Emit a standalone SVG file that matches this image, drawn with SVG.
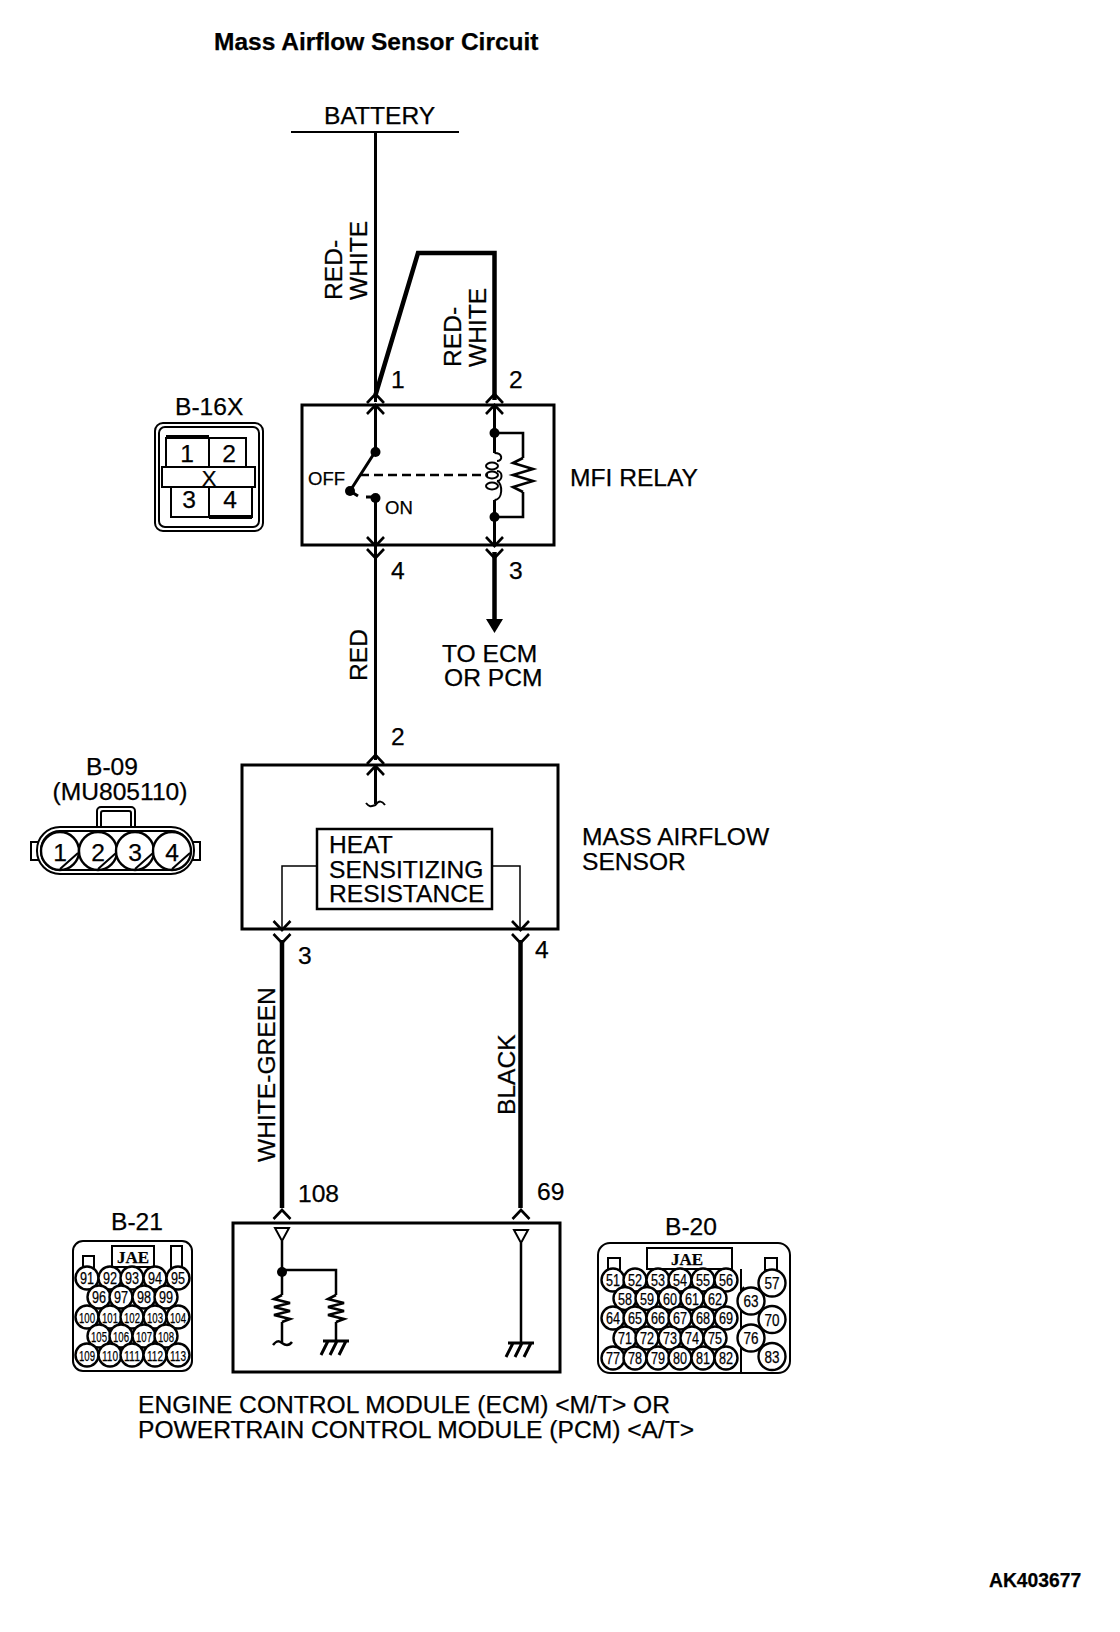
<svg xmlns="http://www.w3.org/2000/svg" xmlns:xlink="http://www.w3.org/1999/xlink" width="1120" height="1632" viewBox="0 0 1120 1632">
<style>
text{font-family:"Liberation Sans",Arial,sans-serif;font-size:24.6px;fill:#000;stroke:#000;stroke-width:.25}
.b{font-weight:bold}
.s{font-size:18.5px}
.m{text-anchor:middle}
.serif{font-family:"Liberation Serif",serif;font-weight:bold;font-size:17px;text-anchor:middle}
.ln{fill:none;stroke:#000;stroke-width:2}
.thin{fill:none;stroke:#000;stroke-width:1.5}
.box{fill:none;stroke:#000;stroke-width:3}
.w{fill:none;stroke:#000;stroke-width:3}
.wt{fill:none;stroke:#000;stroke-width:4.5}
.dot{fill:#000}
.pin{fill:#fff;stroke:#000;stroke-width:2.4}
.n{font-size:16px;text-anchor:middle}
.n3{font-size:15.5px;text-anchor:middle}
</style>
<defs>
<path id="cu" d="M-8.5 9L0 0L8.5 9" fill="none" stroke="#000" stroke-width="2.6"/>
<path id="cd" d="M-8.5 -9L0 0L8.5 -9" fill="none" stroke="#000" stroke-width="2.6"/>
<path id="gnd" d="M-13 0H13M-8 0L-15 14M1 0L-6 14M10 0L3 14" fill="none" stroke="#000" stroke-width="3"/>
<path id="res" d="M0 0L-8 4L8 8L-8 12L8 16L-8 20L8 24L0 27" fill="none" stroke="#000" stroke-width="2.6"/>
</defs>
<rect width="1120" height="1632" fill="#fff"/>
<text id="title" class="b" x="214" y="50" style="font-size:24.5px">Mass Airflow Sensor Circuit</text>

<g id="battery">
<text x="324" y="124">BATTERY</text>
<path class="ln" d="M291 132H459"/>
</g>

<g id="connectors">
<path class="w" d="M375.5 132V402"/>
<path class="wt" d="M375.5 395L418 253H494.5V400"/>
<path class="w" d="M375.5 540V760"/>
<path class="wt" d="M494.5 552V620"/>
<path class="dot" d="M486 619H503L494.5 633Z"/>
<path class="wt" d="M282 940V1208"/>
<path class="wt" d="M520.5 940V1208"/>
<use xlink:href="#cu" href="#cu" x="375.5" y="394"/><use xlink:href="#cu" href="#cu" x="375.5" y="405"/>
<use xlink:href="#cu" href="#cu" x="494.5" y="394"/><use xlink:href="#cu" href="#cu" x="494.5" y="405"/>
<use xlink:href="#cd" href="#cd" x="375.5" y="546"/><use xlink:href="#cd" href="#cd" x="375.5" y="558"/>
<use xlink:href="#cd" href="#cd" x="494.5" y="546"/><use xlink:href="#cd" href="#cd" x="494.5" y="558"/>
<use xlink:href="#cu" href="#cu" x="375.5" y="755"/><use xlink:href="#cu" href="#cu" x="375.5" y="766"/>
<use xlink:href="#cd" href="#cd" x="282" y="930"/><use xlink:href="#cd" href="#cd" x="282" y="943"/>
<use xlink:href="#cd" href="#cd" x="520.5" y="930"/><use xlink:href="#cd" href="#cd" x="520.5" y="943"/>
<use xlink:href="#cu" href="#cu" x="282" y="1210"/>
<use xlink:href="#cu" href="#cu" x="521" y="1210"/>
</g>

<g id="wire-labels">
<text transform="translate(342 300) rotate(-90)">RED-</text>
<text transform="translate(367 300) rotate(-90)">WHITE</text>
<text transform="translate(461 367) rotate(-90)">RED-</text>
<text transform="translate(486 367) rotate(-90)">WHITE</text>
<text x="391" y="388">1</text>
<text x="509" y="388">2</text>
<text x="391" y="579">4</text>
<text x="509" y="579">3</text>
<text transform="translate(367 681) rotate(-90)">RED</text>
<text x="442" y="662">TO ECM</text>
<text x="444" y="686">OR PCM</text>
<text x="391" y="745">2</text>
<text x="298" y="964">3</text>
<text x="535" y="958">4</text>
<text transform="translate(275 1162) rotate(-90)">WHITE-GREEN</text>
<text transform="translate(515 1115) rotate(-90)">BLACK</text>
<text x="298" y="1202">108</text>
<text x="537" y="1200">69</text>
</g>

<g id="relay">
<rect class="box" x="302" y="405" width="252" height="140"/>
<path class="w" d="M375.5 405V452M375.5 498V545"/>
<circle class="dot" cx="375.5" cy="452" r="5"/>
<circle class="dot" cx="350" cy="491" r="5"/>
<circle class="dot" cx="375.5" cy="498" r="5"/>
<path class="w" d="M375 452L350 491L358 496M366 497H375"/>
<path class="ln" d="M360 475H488" stroke-dasharray="9 5" style="stroke-width:2.6"/>
<text class="s" x="308" y="485">OFF</text>
<text class="s" x="385" y="514">ON</text>
<path class="w" d="M494.5 405V453M494.5 500V545"/>
<circle class="dot" cx="494.5" cy="433" r="5"/>
<circle class="dot" cx="494.5" cy="517" r="5"/>
<path class="ln" d="M494.5 433H523V458M523 492V517H494.5" style="stroke-width:2.6"/>
<path class="ln" d="M523 458L513 463L533 469L513 475L533 481L513 487L523 492" style="stroke-width:2.6"/>
<path class="ln" d="M494.5 453C503 453 503 461 497 461M497 471C503 471 503 481 497 481M497 481C503 483 503 500 494.5 500"/>
<ellipse class="ln" cx="492" cy="466" rx="6" ry="3.5"/>
<ellipse class="ln" cx="492" cy="475" rx="6" ry="3.5"/>
<ellipse class="ln" cx="492" cy="486" rx="6" ry="3.5"/>
<text x="570" y="486">MFI RELAY</text>
</g>

<g id="conn-b16x">
<text x="175" y="415">B-16X</text>
<rect class="ln" x="155" y="423" width="108" height="108" rx="8"/>
<rect class="ln" x="159" y="427" width="100" height="100" rx="6"/>
<path class="ln" d="M166 467V438H209V467M209 438H246V467"/>
<path class="ln" d="M171 487V517H252V487M209 487V517"/>
<rect class="ln" x="162" y="467" width="93" height="20"/>
<path d="M166 437H209M209 517H252" fill="none" stroke="#000" stroke-width="4"/>
<text class="m" x="187" y="462">1</text>
<text class="m" x="229" y="462">2</text>
<text class="m" x="209" y="486" style="font-size:22px">X</text>
<text class="m" x="189" y="508">3</text>
<text class="m" x="230" y="508">4</text>
</g>

<g id="sensor">
<rect class="box" x="242" y="765" width="316" height="164"/>
<path class="w" d="M375.5 765V804"/>
<path class="ln" d="M366 803C370 808 372 806 375.5 805C379 800 382 801 385 805"/>
<rect class="ln" x="317" y="829" width="175" height="80" style="stroke-width:2.5"/>
<text x="329" y="853">HEAT</text>
<text x="329" y="878">SENSITIZING</text>
<text x="329" y="902">RESISTANCE</text>
<path class="thin" d="M317 866H282V930M492 866H520V930"/>
<text x="582" y="845">MASS AIRFLOW</text>
<text x="582" y="870">SENSOR</text>
</g>

<g id="conn-b09">
<text class="m" x="112" y="775">B-09</text>
<text class="m" x="120" y="800">(MU805110)</text>
<rect class="ln" x="97" y="807" width="38" height="25" rx="4"/>
<rect class="ln" x="101" y="811" width="30" height="20" rx="2"/>
<rect class="ln" x="31" y="842" width="8" height="18"/>
<rect class="ln" x="193" y="842" width="7" height="18"/>
<rect x="37" y="827" width="157" height="47" rx="23" fill="#fff" stroke="#000" stroke-width="2"/>
<rect class="ln" x="41" y="831" width="149" height="39" rx="19"/>
<circle class="pin" cx="60" cy="851" r="19"/>
<circle class="pin" cx="98" cy="851" r="19"/>
<circle class="pin" cx="135" cy="851" r="19"/>
<circle class="pin" cx="172" cy="851" r="19"/>
<path class="ln" d="M60 869L78 853M98 869L116 853M135 869L153 853M172 869L190 853"/>
<text class="m" x="60" y="861">1</text>
<text class="m" x="98" y="861">2</text>
<text class="m" x="135" y="861">3</text>
<text class="m" x="172" y="861">4</text>
</g>

<g id="ecm">
<rect class="box" x="233" y="1223" width="327" height="149"/>
<path class="ln" d="M275 1228H289L282 1241ZM514 1230H528L521 1243Z"/>
<path class="ln" d="M282 1241V1295M282 1322V1342M282 1270H336V1295M336 1322V1341M521 1243V1343" style="stroke-width:2.5"/>
<circle class="dot" cx="282" cy="1272" r="5"/>
<use xlink:href="#res" href="#res" x="282" y="1295"/>
<use xlink:href="#res" href="#res" x="336" y="1295"/>
<path class="ln" d="M273 1345C277 1340 279 1341 282 1343C286 1346 289 1346 292 1342" style="stroke-width:2.5"/>
<use xlink:href="#gnd" href="#gnd" x="336" y="1341"/>
<use xlink:href="#gnd" href="#gnd" x="521" y="1343"/>
<text x="138" y="1413">ENGINE CONTROL MODULE (ECM) &lt;M/T&gt; OR</text>
<text x="138" y="1438">POWERTRAIN CONTROL MODULE (PCM) &lt;A/T&gt;</text>
</g>

<g id="conn-b21">
<text x="111" y="1230">B-21</text>
<rect class="ln" x="73" y="1241" width="119" height="130" rx="10"/>
<rect class="ln" x="112" y="1246" width="42" height="21"/>
<text class="serif" x="133" y="1263">JAE</text>
<rect class="ln" x="83" y="1256" width="11" height="12"/>
<rect class="ln" x="171" y="1246" width="11" height="22"/>
<circle class="pin" cx="87" cy="1278" r="11.5"/><text class="n" x="87" y="1284" textLength="14" lengthAdjust="spacingAndGlyphs">91</text>
<circle class="pin" cx="110" cy="1278" r="11.5"/><text class="n" x="110" y="1284" textLength="14" lengthAdjust="spacingAndGlyphs">92</text>
<circle class="pin" cx="132" cy="1278" r="11.5"/><text class="n" x="132" y="1284" textLength="14" lengthAdjust="spacingAndGlyphs">93</text>
<circle class="pin" cx="155" cy="1278" r="11.5"/><text class="n" x="155" y="1284" textLength="14" lengthAdjust="spacingAndGlyphs">94</text>
<circle class="pin" cx="178" cy="1278" r="11.5"/><text class="n" x="178" y="1284" textLength="14" lengthAdjust="spacingAndGlyphs">95</text>
<circle class="pin" cx="99" cy="1297" r="11.5"/><text class="n" x="99" y="1303" textLength="14" lengthAdjust="spacingAndGlyphs">96</text>
<circle class="pin" cx="121" cy="1297" r="11.5"/><text class="n" x="121" y="1303" textLength="14" lengthAdjust="spacingAndGlyphs">97</text>
<circle class="pin" cx="144" cy="1297" r="11.5"/><text class="n" x="144" y="1303" textLength="14" lengthAdjust="spacingAndGlyphs">98</text>
<circle class="pin" cx="166" cy="1297" r="11.5"/><text class="n" x="166" y="1303" textLength="14" lengthAdjust="spacingAndGlyphs">99</text>
<circle class="pin" cx="87" cy="1317" r="11.5"/><text class="n3" x="87" y="1322.5" textLength="16" lengthAdjust="spacingAndGlyphs">100</text>
<circle class="pin" cx="110" cy="1317" r="11.5"/><text class="n3" x="110" y="1322.5" textLength="16" lengthAdjust="spacingAndGlyphs">101</text>
<circle class="pin" cx="132" cy="1317" r="11.5"/><text class="n3" x="132" y="1322.5" textLength="16" lengthAdjust="spacingAndGlyphs">102</text>
<circle class="pin" cx="155" cy="1317" r="11.5"/><text class="n3" x="155" y="1322.5" textLength="16" lengthAdjust="spacingAndGlyphs">103</text>
<circle class="pin" cx="178" cy="1317" r="11.5"/><text class="n3" x="178" y="1322.5" textLength="16" lengthAdjust="spacingAndGlyphs">104</text>
<circle class="pin" cx="99" cy="1336" r="11.5"/><text class="n3" x="99" y="1341.5" textLength="16" lengthAdjust="spacingAndGlyphs">105</text>
<circle class="pin" cx="121" cy="1336" r="11.5"/><text class="n3" x="121" y="1341.5" textLength="16" lengthAdjust="spacingAndGlyphs">106</text>
<circle class="pin" cx="144" cy="1336" r="11.5"/><text class="n3" x="144" y="1341.5" textLength="16" lengthAdjust="spacingAndGlyphs">107</text>
<circle class="pin" cx="166" cy="1336" r="11.5"/><text class="n3" x="166" y="1341.5" textLength="16" lengthAdjust="spacingAndGlyphs">108</text>
<circle class="pin" cx="87" cy="1355" r="11.5"/><text class="n3" x="87" y="1360.5" textLength="16" lengthAdjust="spacingAndGlyphs">109</text>
<circle class="pin" cx="110" cy="1355" r="11.5"/><text class="n3" x="110" y="1360.5" textLength="16" lengthAdjust="spacingAndGlyphs">110</text>
<circle class="pin" cx="132" cy="1355" r="11.5"/><text class="n3" x="132" y="1360.5" textLength="16" lengthAdjust="spacingAndGlyphs">111</text>
<circle class="pin" cx="155" cy="1355" r="11.5"/><text class="n3" x="155" y="1360.5" textLength="16" lengthAdjust="spacingAndGlyphs">112</text>
<circle class="pin" cx="178" cy="1355" r="11.5"/><text class="n3" x="178" y="1360.5" textLength="16" lengthAdjust="spacingAndGlyphs">113</text>
</g>

<g id="conn-b20">
<text x="665" y="1235">B-20</text>
<rect class="ln" x="598" y="1243" width="192" height="130" rx="12"/>
<rect class="ln" x="647" y="1248" width="85" height="21"/>
<text class="serif" x="687" y="1265">JAE</text>
<rect class="ln" x="608" y="1258" width="12" height="12"/>
<rect class="ln" x="765" y="1258" width="12" height="12"/>
<path class="ln" d="M741 1269V1373"/>
<circle class="pin" cx="613" cy="1280" r="11.5"/><text class="n" x="613" y="1286" textLength="14" lengthAdjust="spacingAndGlyphs">51</text>
<circle class="pin" cx="635" cy="1280" r="11.5"/><text class="n" x="635" y="1286" textLength="14" lengthAdjust="spacingAndGlyphs">52</text>
<circle class="pin" cx="658" cy="1280" r="11.5"/><text class="n" x="658" y="1286" textLength="14" lengthAdjust="spacingAndGlyphs">53</text>
<circle class="pin" cx="680" cy="1280" r="11.5"/><text class="n" x="680" y="1286" textLength="14" lengthAdjust="spacingAndGlyphs">54</text>
<circle class="pin" cx="703" cy="1280" r="11.5"/><text class="n" x="703" y="1286" textLength="14" lengthAdjust="spacingAndGlyphs">55</text>
<circle class="pin" cx="726" cy="1280" r="11.5"/><text class="n" x="726" y="1286" textLength="14" lengthAdjust="spacingAndGlyphs">56</text>
<circle class="pin" cx="625" cy="1298.5" r="11.5"/><text class="n" x="625" y="1304.5" textLength="14" lengthAdjust="spacingAndGlyphs">58</text>
<circle class="pin" cx="647" cy="1298.5" r="11.5"/><text class="n" x="647" y="1304.5" textLength="14" lengthAdjust="spacingAndGlyphs">59</text>
<circle class="pin" cx="670" cy="1298.5" r="11.5"/><text class="n" x="670" y="1304.5" textLength="14" lengthAdjust="spacingAndGlyphs">60</text>
<circle class="pin" cx="692" cy="1298.5" r="11.5"/><text class="n" x="692" y="1304.5" textLength="14" lengthAdjust="spacingAndGlyphs">61</text>
<circle class="pin" cx="715" cy="1298.5" r="11.5"/><text class="n" x="715" y="1304.5" textLength="14" lengthAdjust="spacingAndGlyphs">62</text>
<circle class="pin" cx="613" cy="1318" r="11.5"/><text class="n" x="613" y="1324" textLength="14" lengthAdjust="spacingAndGlyphs">64</text>
<circle class="pin" cx="635" cy="1318" r="11.5"/><text class="n" x="635" y="1324" textLength="14" lengthAdjust="spacingAndGlyphs">65</text>
<circle class="pin" cx="658" cy="1318" r="11.5"/><text class="n" x="658" y="1324" textLength="14" lengthAdjust="spacingAndGlyphs">66</text>
<circle class="pin" cx="680" cy="1318" r="11.5"/><text class="n" x="680" y="1324" textLength="14" lengthAdjust="spacingAndGlyphs">67</text>
<circle class="pin" cx="703" cy="1318" r="11.5"/><text class="n" x="703" y="1324" textLength="14" lengthAdjust="spacingAndGlyphs">68</text>
<circle class="pin" cx="726" cy="1318" r="11.5"/><text class="n" x="726" y="1324" textLength="14" lengthAdjust="spacingAndGlyphs">69</text>
<circle class="pin" cx="625" cy="1338" r="11.5"/><text class="n" x="625" y="1344" textLength="14" lengthAdjust="spacingAndGlyphs">71</text>
<circle class="pin" cx="647" cy="1338" r="11.5"/><text class="n" x="647" y="1344" textLength="14" lengthAdjust="spacingAndGlyphs">72</text>
<circle class="pin" cx="670" cy="1338" r="11.5"/><text class="n" x="670" y="1344" textLength="14" lengthAdjust="spacingAndGlyphs">73</text>
<circle class="pin" cx="692" cy="1338" r="11.5"/><text class="n" x="692" y="1344" textLength="14" lengthAdjust="spacingAndGlyphs">74</text>
<circle class="pin" cx="715" cy="1338" r="11.5"/><text class="n" x="715" y="1344" textLength="14" lengthAdjust="spacingAndGlyphs">75</text>
<circle class="pin" cx="613" cy="1358" r="11.5"/><text class="n" x="613" y="1364" textLength="14" lengthAdjust="spacingAndGlyphs">77</text>
<circle class="pin" cx="635" cy="1358" r="11.5"/><text class="n" x="635" y="1364" textLength="14" lengthAdjust="spacingAndGlyphs">78</text>
<circle class="pin" cx="658" cy="1358" r="11.5"/><text class="n" x="658" y="1364" textLength="14" lengthAdjust="spacingAndGlyphs">79</text>
<circle class="pin" cx="680" cy="1358" r="11.5"/><text class="n" x="680" y="1364" textLength="14" lengthAdjust="spacingAndGlyphs">80</text>
<circle class="pin" cx="703" cy="1358" r="11.5"/><text class="n" x="703" y="1364" textLength="14" lengthAdjust="spacingAndGlyphs">81</text>
<circle class="pin" cx="726" cy="1358" r="11.5"/><text class="n" x="726" y="1364" textLength="14" lengthAdjust="spacingAndGlyphs">82</text>
<path class="ln" d="M744 1287A19 19 0 0 0 744 1311M744 1326A19 19 0 0 0 744 1350"/>
<circle class="pin" cx="772" cy="1283" r="13.5"/><text class="n" x="772" y="1289" textLength="15" lengthAdjust="spacingAndGlyphs">57</text>
<circle class="pin" cx="751" cy="1301" r="13.5"/><text class="n" x="751" y="1307" textLength="15" lengthAdjust="spacingAndGlyphs">63</text>
<circle class="pin" cx="772" cy="1319.5" r="13.5"/><text class="n" x="772" y="1325.5" textLength="15" lengthAdjust="spacingAndGlyphs">70</text>
<circle class="pin" cx="751" cy="1338" r="13.5"/><text class="n" x="751" y="1344" textLength="15" lengthAdjust="spacingAndGlyphs">76</text>
<circle class="pin" cx="772" cy="1356.5" r="13.5"/><text class="n" x="772" y="1362.5" textLength="15" lengthAdjust="spacingAndGlyphs">83</text>
</g>

<text id="code" class="b" x="989" y="1587" style="font-size:19.3px">AK403677</text>
</svg>
